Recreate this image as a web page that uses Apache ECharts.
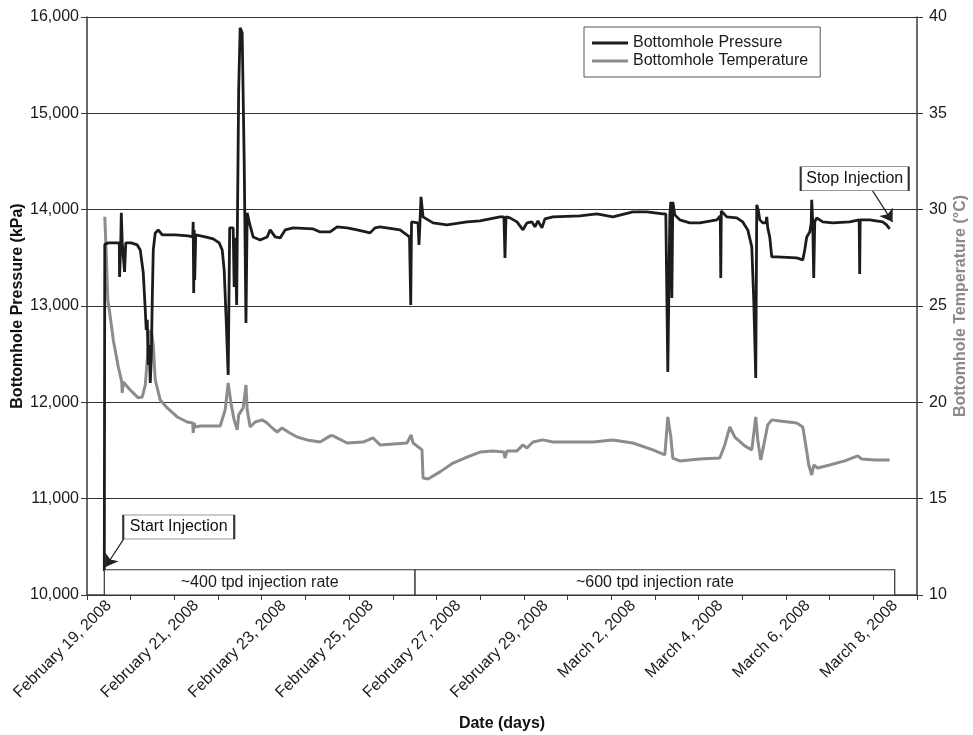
<!DOCTYPE html>
<html><head><meta charset="utf-8">
<script src="https://cdn.jsdelivr.net/npm/echarts@6/dist/echarts.min.js"></script>
<style>html,body{margin:0;padding:0;background:#fff}#c{width:973px;height:735px}</style>
</head><body><div id="c"></div>
<script>
// Day categories (one slot per day)
const dayLabels = [
  'February 19, 2008','February 20, 2008','February 21, 2008','February 22, 2008','February 23, 2008',
  'February 24, 2008','February 25, 2008','February 26, 2008','February 27, 2008','February 28, 2008',
  'February 29, 2008','March 1, 2008','March 2, 2008','March 3, 2008','March 4, 2008',
  'March 5, 2008','March 6, 2008','March 7, 2008','March 8, 2008'
];
// Time in days since Feb 19, 2008 00:00
const pressureTime = [0.396,0.407,0.487,0.739,0.746,0.773,0.785,0.807,0.860,0.887,1.013,1.150,1.219,1.288,1.334,1.356,1.379,1.402,1.425,1.448,1.471,1.494,1.517,1.562,1.631,1.722,2.020,2.317,2.420,2.431,2.443,2.454,2.466,2.489,2.706,2.889,3.026,3.095,3.140,3.186,3.232,3.266,3.346,3.369,3.392,3.426,3.472,3.506,3.552,3.598,3.639,3.667,3.712,3.803,3.963,4.124,4.193,4.307,4.422,4.536,4.719,5.177,5.337,5.565,5.725,5.954,6.183,6.480,6.594,6.709,7.166,7.383,7.411,7.429,7.578,7.600,7.623,7.646,7.692,7.921,8.241,8.698,8.996,9.453,9.545,9.568,9.591,9.682,9.843,9.980,10.071,10.186,10.254,10.323,10.414,10.483,10.666,11.283,11.672,12.038,12.496,12.816,13.182,13.250,13.296,13.342,13.365,13.388,13.410,13.456,13.570,13.799,14.028,14.417,14.497,14.508,14.520,14.646,14.874,15.012,15.126,15.218,15.263,15.309,15.332,15.366,15.401,15.469,15.538,15.561,15.583,15.629,15.675,15.790,16.247,16.385,16.430,16.476,16.545,16.579,16.590,16.613,16.636,16.659,16.704,16.842,17.070,17.459,17.676,17.688,17.699,17.916,18.214,18.305,18.374];
const pressureKPa = [10250,13640,13655,13655,13302,13655,13967,13655,13354,13655,13655,13634,13582,13344,12959,12752,12856,12388,12596,12201,12440,13063,13582,13759,13790,13738,13738,13728,13717,13873,13136,13790,13271,13738,13717,13697,13655,13582,13375,12856,12284,13811,13811,13198,13707,13011,15244,15888,15836,14517,12824,13967,13873,13717,13686,13717,13790,13717,13707,13790,13811,13800,13769,13769,13821,13811,13790,13759,13811,13821,13790,13717,13011,13873,13863,13634,13873,14133,13925,13863,13842,13873,13884,13925,13925,13499,13925,13915,13873,13790,13863,13873,13821,13884,13811,13904,13925,13935,13956,13925,13977,13977,13956,13956,12316,13946,14081,13084,14081,13946,13894,13863,13863,13894,13935,13292,13987,13925,13915,13873,13790,13614,13063,12253,14050,13998,13894,13863,13863,13925,13811,13717,13510,13510,13499,13479,13582,13717,13769,13863,14102,13863,13292,13873,13915,13873,13863,13873,13894,13333,13894,13894,13873,13842,13800];
const tempTime = [0.407,0.441,0.476,0.533,0.602,0.716,0.796,0.807,0.830,0.990,1.173,1.265,1.334,1.379,1.425,1.471,1.517,1.562,1.677,1.837,2.066,2.294,2.420,2.431,2.454,2.477,2.592,2.889,3.049,3.163,3.232,3.301,3.369,3.438,3.472,3.575,3.639,3.667,3.735,3.850,4.010,4.124,4.239,4.353,4.467,4.605,4.811,5.040,5.337,5.565,5.634,5.954,6.320,6.549,6.709,7.326,7.418,7.464,7.669,7.692,7.806,8.081,8.378,8.698,8.996,9.293,9.545,9.568,9.614,9.843,9.980,10.071,10.208,10.437,10.666,11.123,11.581,12.038,12.496,12.953,13.228,13.296,13.365,13.410,13.570,14.028,14.485,14.600,14.714,14.829,15.057,15.218,15.309,15.355,15.424,15.493,15.583,15.675,15.858,16.247,16.385,16.453,16.522,16.590,16.636,16.728,17.002,17.345,17.643,17.734,18.032,18.374];
const tempC = [29.63,27.65,25.32,24.43,23.24,21.84,21.06,20.49,21.06,20.64,20.23,20.28,20.90,22.20,23.60,23.76,22.98,21.16,20.12,19.71,19.24,18.98,18.93,18.41,18.93,18.72,18.77,18.77,18.77,19.61,21.01,19.87,19.09,18.57,19.35,19.71,20.90,19.61,18.72,18.98,19.09,18.93,18.67,18.46,18.67,18.46,18.20,18.05,17.94,18.26,18.26,17.89,17.94,18.15,17.79,17.89,18.31,17.89,17.53,16.07,16.02,16.39,16.85,17.16,17.42,17.48,17.42,17.11,17.48,17.48,17.79,17.63,17.94,18.05,17.94,17.94,17.94,18.05,17.89,17.53,17.27,19.24,18.20,17.11,16.96,17.06,17.11,17.79,18.72,18.20,17.74,17.53,19.24,18.05,17.01,17.79,18.83,19.09,19.03,18.93,18.72,17.79,16.75,16.23,16.75,16.59,16.75,16.96,17.22,17.06,17.01,17.01];
// Annotations (data units)
const rateNames = ['~400 tpd injection rate','~600 tpd injection rate'];
const rateBounds = [0.396, 7.51, 18.49];
const rateTop = 10262;

const FONT = "'Liberation Sans', Arial, sans-serif";
const pData = pressureTime.map((t,i)=>[t, pressureKPa[i]]);
const tData = tempTime.map((t,i)=>[t, tempC[i]]);

const chart = echarts.init(document.getElementById('c'), null, {renderer:'canvas'});
const axisCol = '#3a3a3a';
chart.setOption({
  animation:false,
  backgroundColor:'#fff',
  textStyle:{fontFamily:FONT},
  grid:{left:87, right:56, top:17, bottom:140, containLabel:false, outerBoundsMode:'none'},
  legend:{
    data:['Bottomhole Pressure','Bottomhole Temperature'],
    orient:'vertical', left:584, top:27,
    icon:'rect', itemWidth:36, itemHeight:3, itemGap:2,
    borderColor:'#555', borderWidth:1, padding:[8,12,8,8],
    textStyle:{fontSize:16, color:'#1a1a1a', fontFamily:FONT}
  },
  xAxis:[
    {type:'category', data:dayLabels, boundaryGap:true, gridIndex:0,
     axisLine:{lineStyle:{color:axisCol, width:1.5}},
     axisTick:{show:true, interval:0, length:5, lineStyle:{color:axisCol}},
     axisLabel:{interval:1, rotate:45, fontSize:16, color:'#1a1a1a', margin:8, fontFamily:FONT},
     splitLine:{show:false},
     name:'Date (days)', nameLocation:'middle', nameGap:121, nameMoveOverlap:false,
     nameTextStyle:{fontWeight:'bold', fontSize:16, color:'#111', fontFamily:FONT}},
    {type:'value', min:0, max:19, show:false, gridIndex:0}
  ],
  yAxis:[
    {type:'value', min:10000, max:16000, interval:1000, position:'left',
     axisLine:{show:true, lineStyle:{color:axisCol, width:1.5}},
     axisTick:{show:true, length:6, lineStyle:{color:axisCol}},
     axisLabel:{formatter:v=>v.toLocaleString('en-US'), fontSize:16, color:'#1a1a1a', margin:8, fontFamily:FONT},
     splitLine:{show:true, lineStyle:{color:'#333', width:1.2}},
     name:'Bottomhole Pressure (kPa)', nameLocation:'middle', nameGap:61, nameRotate:90, nameMoveOverlap:false,
     nameTextStyle:{fontWeight:'bold', fontSize:16, color:'#111', fontFamily:FONT}},
    {type:'value', min:10, max:40, interval:5, position:'right',
     axisLine:{show:true, lineStyle:{color:axisCol, width:1.5}},
     axisTick:{show:true, length:6, lineStyle:{color:axisCol}},
     axisLabel:{fontSize:16, color:'#1a1a1a', margin:12, fontFamily:FONT},
     splitLine:{show:false},
     name:'Bottomhole Temperature (°C)', nameLocation:'middle', nameGap:36, nameRotate:90, nameMoveOverlap:false,
     nameTextStyle:{fontWeight:'bold', fontSize:16, color:'#8a8a8a', fontFamily:FONT}}
  ],
  series:[
    {name:'Bottomhole Temperature', type:'line', xAxisIndex:1, yAxisIndex:1, data:tData,
     showSymbol:false, symbol:'none', z:2, color:'#8c8c8c',
     lineStyle:{color:'#8c8c8c', width:3}},
    {name:'Bottomhole Pressure', type:'line', xAxisIndex:1, yAxisIndex:0, data:pData,
     showSymbol:false, symbol:'none', z:3, color:'#1c1c1c',
     lineStyle:{color:'#1c1c1c', width:2.8},
     markArea:{silent:true, z:4,
       itemStyle:{color:'#fff', borderColor:'#333', borderWidth:1.2},
       label:{show:true, position:'inside', fontSize:16, color:'#1a1a1a', fontFamily:FONT},
       data:[
         [{name:rateNames[0], coord:[rateBounds[0],10000]},{coord:[rateBounds[1],rateTop]}],
         [{name:rateNames[1], coord:[rateBounds[1],10000]},{coord:[rateBounds[2],rateTop]}]
       ]},
     markLine:{silent:true, symbol:['none','arrow'], symbolSize:12,
       lineStyle:{color:'#222', width:1.2, type:'solid'}, label:{show:false},
       data:[
         [{coord:[0.842,10582]},{coord:[0.421,10291]}],
         [{coord:[17.985,14195]},{coord:[18.44,13873]}]
       ]},
     markPoint:{silent:true, symbol:'rect',
       itemStyle:{color:'#fff', borderColor:'#333', borderWidth:1},
       label:{show:true, position:'inside', formatter:'{b}', fontSize:16, color:'#111', fontFamily:FONT},
       data:[
         {name:'Start Injection', coord:[2.1,10706], symbolSize:[111,24]},
         {name:'Stop Injection', coord:[17.574,14320], symbolSize:[108,24]}
       ]}
    }
  ]
});
</script></body></html>
